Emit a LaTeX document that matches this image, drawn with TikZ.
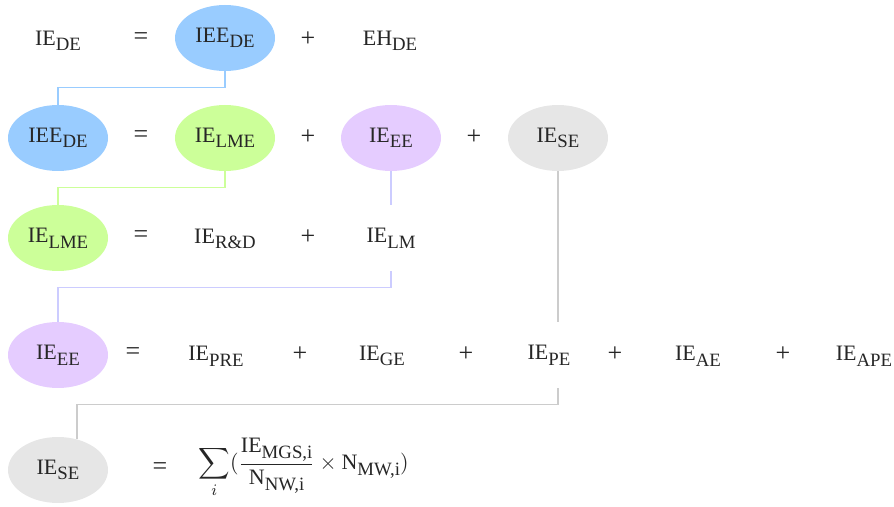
\documentclass[tikz,border=0pt]{standalone}
\usepackage{amsmath}
\usepackage{fontspec}
\setmainfont{Liberation Serif}
\newcommand\sbs[1]{\raisebox{-2.8pt}{\fontsize{9.4}{10}\selectfont #1}}
\definecolor{cblue}{HTML}{99CCFF}
\definecolor{cgreen}{HTML}{CCFF99}
\definecolor{cpurple}{HTML}{E5CCFF}
\definecolor{cgrey}{HTML}{E6E6E6}
\definecolor{lblue}{HTML}{99CCFF}
\definecolor{lgreen}{HTML}{CCFF99}
\definecolor{lpurple}{HTML}{CCCCFF}
\definecolor{lgrey}{HTML}{CCCCCC}
\tikzset{
  base/.style={inner sep=0pt, font=\fontsize{11}{13}\selectfont, text=black!85},
  term/.style={base},
  op/.style={base, font=\fontsize{13}{15}\selectfont},
  ell/.style={base, ellipse, minimum width=50pt, minimum height=33pt},
  eblue/.style={ell, fill=cblue},
  egreen/.style={ell, fill=cgreen},
  epurple/.style={ell, fill=cpurple},
  egrey/.style={ell, fill=cgrey},
  ghost/.style={ell},
  link/.style={line width=0.8pt},
}
\usetikzlibrary{shapes.geometric}
\begin{document}
\begin{tikzpicture}[x=0.5pt,y=-0.5pt]
\useasboundingbox (0,0) rectangle (894,507);
% row 1
\node[term] (ieDE) at (58,41) {IE\sbs{DE}};
\node[op] (eq1) at (141,39) {=};
\node[eblue] (ieeDE) at (225,38) {IEE\sbs{DE}};
\node[op] (p1) at (308,39) {+};
\node[term] (ehDE) at (390,41) {EH\sbs{DE}};
% row 2
\node[eblue] (ieeDE2) at (58,138) {IEE\sbs{DE}};
\node[op] (eq2) at (141,137) {=};
\node[egreen] (ieLME) at (225,138) {IE\sbs{LME}};
\node[op] (p2a) at (308,137) {+};
\node[epurple] (ieEE) at (391,138) {IE\sbs{EE}};
\node[op] (p2b) at (474,137) {+};
\node[egrey] (ieSE) at (558,138) {IE\sbs{SE}};
% row 3
\node[egreen] (ieLME2) at (58,238) {IE\sbs{LME}};
\node[op] (eq3) at (141,237) {=};
\node[term] (ieRD) at (225,239) {IE\sbs{R\&D}};
\node[op] (p3) at (308,237) {+};
\node[ghost] (ieLM) at (391,238) {IE\sbs{LM}};
% row 4
\node[epurple] (ieEE2) at (58,355) {IE\sbs{EE}};
\node[op] (eq4) at (133,354) {=};
\node[term] (iePRE) at (216,356) {IE\sbs{PRE}};
\node[op] (p4a) at (300,354) {+};
\node[term] (ieGE) at (382,356) {IE\sbs{GE}};
\node[op] (p4b) at (466,354) {+};
\node[ghost] (iePE) at (549,355) {IE\sbs{PE}};
\node[op] (p4c) at (615,354) {+};
\node[term] (ieAE) at (698,356) {IE\sbs{AE}};
\node[op] (p4d) at (783,354) {+};
\node[term] (ieAPE) at (864,356) {IE\sbs{APE}};
% row 5
\node[egrey] (ieSE2) at (58,470) {IE\sbs{SE}};
\node[op] (eq5) at (160,469) {=};
\node[base, anchor=west] (formula) at (198,468)
  {$\displaystyle\sum_{i}(\frac{\text{IE\sbs{MGS,i}}}{\text{N\sbs{NW,i}}}\times\text{N\sbs{MW,i}})$};
% connectors
\draw[link, lblue] (ieeDE.south) -- ++(0,16) -| (ieeDE2.north);
\draw[link, lgreen] (ieLME.south) -- ++(0,16) -| (ieLME2.north);
\draw[link, lpurple] (ieEE.south) -- (ieLM.north);
\draw[link, lpurple] (ieLM.south) -- ++(0,16) -| (ieEE2.north);
\draw[link, lgrey] (ieSE.south) -- (ieSE.south |- iePE.north);
\draw[link, lgrey] (ieSE.south |- iePE.south) -- ++(0,16) -| (ieSE2.58);
\end{tikzpicture}
\end{document}
